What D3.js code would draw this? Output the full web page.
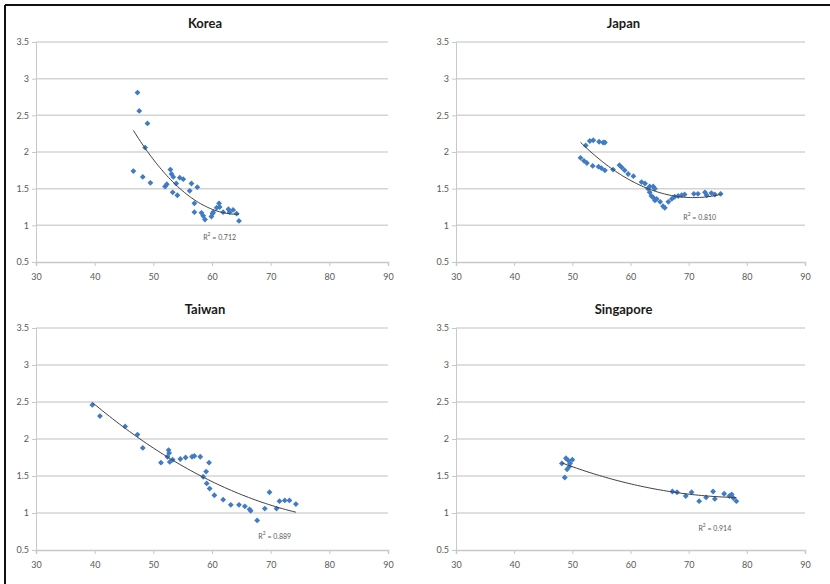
<!DOCTYPE html>
<html><head><meta charset="utf-8">
<script src="https://cdn.jsdelivr.net/npm/d3@7"></script>
<style>
html,body{margin:0;padding:0;background:#fff;}
svg{display:block;font-family:Lato, "Open Sans", sans-serif;}
</style></head>
<body>
<svg id="chart" width="830" height="584"></svg>
<script>
// ---- data ----
const xTicks = [30, 40, 50, 60, 70, 80, 90];
const yTicks = [0.5, 1, 1.5, 2, 2.5, 3, 3.5];

const koreaX = [47.3,47.6,49.0,48.6,46.6,48.2,49.5,52.0,52.3,52.9,53.1,53.4,54.5,55.1,53.9,53.3,54.1,56.2,56.5,57.5,57.0,57.0,58.2,58.5,58.8,59.9,60.1,60.8,61.2,61.9,62.8,63.0,63.6,64.2,64.6,61.3,60.2];
const koreaY = [2.81,2.56,2.39,2.06,1.74,1.66,1.58,1.53,1.56,1.76,1.70,1.66,1.65,1.63,1.57,1.45,1.41,1.47,1.57,1.52,1.30,1.18,1.17,1.13,1.08,1.12,1.16,1.24,1.30,1.18,1.22,1.18,1.21,1.16,1.06,1.25,1.18];

const japanX = [51.4,52.0,52.5,52.3,53.0,53.6,55.3,55.6,54.6,53.5,54.5,55.0,55.6,57.0,58.1,58.5,59.0,59.6,60.5,61.9,62.5,63.0,63.3,63.9,64.2,63.3,63.6,63.9,64.2,64.5,65.1,65.6,65.9,66.5,67.1,67.6,68.2,68.8,69.3,70.9,71.6,72.8,73.1,73.9,74.5,75.5];
const japanY = [1.92,1.88,1.85,2.09,2.15,2.16,2.13,2.13,2.14,1.81,1.80,1.78,1.75,1.76,1.82,1.79,1.75,1.70,1.67,1.59,1.57,1.50,1.53,1.53,1.50,1.45,1.40,1.38,1.34,1.36,1.32,1.26,1.24,1.32,1.36,1.39,1.40,1.41,1.42,1.43,1.43,1.45,1.41,1.44,1.42,1.43];

const taiwanX = [39.6,40.9,45.2,47.3,48.2,51.3,52.6,52.7,52.4,52.8,53.3,54.6,55.5,56.6,57.0,58.0,59.5,59.0,58.5,59.1,59.6,60.4,61.9,63.2,64.6,65.6,66.4,66.6,67.7,69.0,69.8,71.0,71.5,72.4,73.2,74.3];
const taiwanY = [2.46,2.31,2.17,2.06,1.88,1.68,1.85,1.81,1.76,1.69,1.72,1.73,1.75,1.76,1.77,1.76,1.68,1.56,1.49,1.40,1.33,1.24,1.18,1.11,1.11,1.09,1.05,1.03,0.90,1.06,1.28,1.06,1.16,1.17,1.17,1.12];

const singaporeX = [48.2,48.7,48.9,49.3,49.6,50.0,49.1,49.5,67.2,68.0,69.5,70.5,71.8,73.0,74.2,74.5,76.1,77.0,77.4,77.7,78.2];
const singaporeY = [1.67,1.48,1.74,1.71,1.67,1.72,1.59,1.63,1.29,1.28,1.23,1.28,1.16,1.21,1.29,1.19,1.26,1.23,1.25,1.20,1.16];

const titles = ["Korea", "Japan", "Taiwan", "Singapore"];
const r2Labels = ["0.712", "0.810", "0.889", "0.914"];
const r2LabelAt = [[61.3, 0.83], [71.9, 1.10], [70.7, 0.68], [74.5, 0.78]];

// ---- layout ----
const panels = [
  {xs: koreaX, ys: koreaY, left: 36, right: 388, top: 42, bottom: 262},
  {xs: japanX, ys: japanY, left: 456, right: 805, top: 42, bottom: 262},
  {xs: taiwanX, ys: taiwanY, left: 36, right: 388, top: 328, bottom: 550},
  {xs: singaporeX, ys: singaporeY, left: 456, right: 805, top: 328, bottom: 550}
];

const svg = d3.select("#chart");

// frame (left & top edge visible)
svg.append("line").attr("x1", 5).attr("y1", 5).attr("x2", 830).attr("y2", 5)
  .attr("stroke", "#111").attr("stroke-width", 2);
svg.append("line").attr("x1", 5).attr("y1", 5).attr("x2", 5).attr("y2", 584)
  .attr("stroke", "#111").attr("stroke-width", 2);

function quadFit(xs, ys) {
  const mx = d3.mean(xs);
  let s = [0,0,0,0,0], t = [0,0,0];
  xs.forEach((x, i) => {
    const u = x - mx, y = ys[i];
    let p = 1;
    for (let k = 0; k < 5; k++) { s[k] += p; if (k < 3) t[k] += p * y; p *= u; }
  });
  const A = [[s[0], s[1], s[2], t[0]], [s[1], s[2], s[3], t[1]], [s[2], s[3], s[4], t[2]]];
  for (let i = 0; i < 3; i++) {
    for (let j = i + 1; j < 3; j++) {
      const f = A[j][i] / A[i][i];
      for (let k = i; k < 4; k++) A[j][k] -= f * A[i][k];
    }
  }
  const c = [0,0,0];
  for (let i = 2; i >= 0; i--) {
    let v = A[i][3];
    for (let k = i + 1; k < 3; k++) v -= A[i][k] * c[k];
    c[i] = v / A[i][i];
  }
  return x => { const u = x - mx; return c[0] + c[1] * u + c[2] * u * u; };
}

panels.forEach((p, pi) => {
  const x = d3.scaleLinear().domain([30, 90]).range([p.left, p.right]);
  const y = d3.scaleLinear().domain([0.5, 3.5]).range([p.bottom, p.top]);
  const g = svg.append("g");

  // gridlines
  g.append("g").selectAll("line").data(yTicks.filter(v => v > 0.5)).join("line")
    .attr("x1", p.left).attr("x2", p.right)
    .attr("y1", d => y(d)).attr("y2", d => y(d))
    .attr("stroke", "#d4d4d4").attr("stroke-width", 1.5);

  // y axis
  const ya = g.append("g").attr("transform", `translate(${p.left},0)`)
    .call(d3.axisLeft(y).tickValues(yTicks).tickSize(4).tickPadding(3).tickFormat(d3.format("")));
  ya.select(".domain").attr("stroke", "#c8c8c8");
  ya.selectAll(".tick line").attr("stroke", "#c8c8c8");
  ya.selectAll("text").attr("fill", "#595959").style("font-size", "9px").style("font-family", "Lato, sans-serif");

  // x axis
  const xa = g.append("g").attr("transform", `translate(0,${p.bottom})`)
    .call(d3.axisBottom(x).tickValues(xTicks).tickSize(4).tickPadding(8));
  xa.select(".domain").attr("stroke", "#c8c8c8").attr("stroke-width", 1.5);
  xa.selectAll(".tick line").attr("stroke", "#c8c8c8");
  xa.selectAll("text").attr("fill", "#595959").style("font-size", "9px").style("font-family", "Lato, sans-serif");

  // points
  const pts = p.xs.map((v, i) => [v, p.ys[i]]);
  const sym = d3.symbol().type(d3.symbolSquare).size(17);
  g.append("g").selectAll("path").data(pts).join("path")
    .attr("d", sym)
    .attr("transform", d => `translate(${x(d[0])},${y(d[1])}) rotate(45)`)
    .attr("fill", "#3f7cc4");

  // trend line (2nd-order polynomial least-squares over data range)
  const f = quadFit(p.xs, p.ys);
  const [x0, x1] = d3.extent(p.xs);
  const line = d3.line().x(d => x(d)).y(d => y(f(d))).curve(d3.curveLinear);
  const samples = d3.range(0, 61).map(i => x0 + (x1 - x0) * i / 60);
  g.append("path").datum(samples).attr("d", line)
    .attr("fill", "none").attr("stroke", "#404040").attr("stroke-width", 1);

  // R² label
  const lab = g.append("text")
    .attr("x", x(r2LabelAt[pi][0])).attr("y", y(r2LabelAt[pi][1]))
    .attr("text-anchor", "middle").attr("dominant-baseline", "middle")
    .attr("fill", "#595959").style("font-size", "7px");
  lab.append("tspan").text("R");
  lab.append("tspan").attr("dy", -3).style("font-size", "5px").text("2");
  lab.append("tspan").attr("dy", 3).text(" = " + r2Labels[pi]);

  // title
  g.append("text").attr("x", (p.left + p.right) / 2 - 7).attr("y", p.top - 14)
    .attr("text-anchor", "middle").attr("fill", "#1a1a1a")
    .style("font-size", "13px").style("font-weight", "bold")
    .text(titles[pi]);
});
</script>
</body></html>
